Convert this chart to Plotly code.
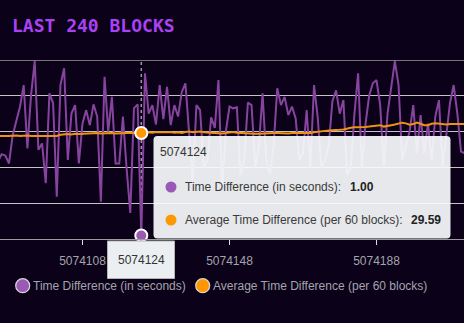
import plotly.graph_objects as go

# ---- data -------------------------------------------------------------
blocks = list(range(5074085, 5074213))

# seconds between consecutive blocks
time_diff = [
    21.6, 23.7, 23.3, 21.1, 29.0, 33.2, 37.0, 43.0, 25.3, 40.2,   # 085-094
    49.7, 24.9, 26.7, 15.6, 40.7, 37.9, 11.8, 43.0, 47.7, 22.1,   # 095-104
    35.1, 37.4, 21.1, 32.3, 36.0, 31.8, 37.6, 34.2, 10.4, 45.3,   # 105-114
    30.0, 39.7, 21.1, 21.1, 34.2, 19.7, 7.3, 36.5, 37.6, 1.0,     # 115-124
    46.3, 35.0, 37.4, 32.0, 43.0, 33.5, 42.5, 31.8, 37.4, 34.2,   # 125-134
    41.0, 43.5, 29.0, 16.0, 37.4, 36.0, 20.0, 22.0, 34.0, 31.0,   # 135-144
    44.4, 14.0, 30.0, 37.0, 36.5, 36.8, 18.0, 22.0, 38.1, 37.4,   # 145-154
    20.0, 26.0, 40.7, 22.0, 18.0, 26.0, 42.1, 37.4, 39.7, 34.6,   # 155-164
    37.0, 33.7, 22.0, 24.0, 36.0, 20.0, 43.0, 34.0, 20.0, 22.0,   # 165-174
    26.0, 38.5, 41.5, 35.0, 38.8, 18.0, 20.0, 35.0, 46.3, 20.0,   # 175-184
    32.0, 40.0, 43.5, 44.4, 37.4, 20.0, 35.0, 42.0, 49.7, 43.0,   # 185-194
    22.0, 26.0, 30.0, 37.4, 24.0, 34.6, 24.0, 32.2, 22.0, 34.2,   # 195-204
    38.8, 20.0, 30.0, 38.0, 43.0, 35.0, 24.4, 24.0,               # 205-212
]

# rolling mean over the previous 60 blocks
avg_diff = [
    28.8, 28.9, 28.8, 28.8, 28.9, 28.9, 28.8, 28.9, 28.9, 28.8,
    28.8, 28.8, 28.7, 28.8, 28.8, 28.7, 28.8, 29.1, 29.3, 29.3,
    29.2, 29.4, 29.3, 29.4, 29.5, 29.4, 29.6, 29.6, 29.5, 29.6,
    29.6, 29.6, 29.5, 29.6, 29.6, 29.6, 29.6, 29.5, 29.6, 29.59,
    29.7, 29.8, 29.7, 29.9, 29.8, 29.7, 29.8, 29.9, 29.7, 29.8,
    29.6, 29.9, 30.0, 29.8, 29.9, 30.0, 29.8, 29.7, 29.6, 29.7,
    29.6, 29.5, 29.6, 29.8, 29.9, 29.7, 29.6, 29.5, 29.4, 29.5,
    29.4, 29.4, 29.5, 29.6, 29.5, 29.6, 29.6, 29.5, 29.6, 29.5,
    29.6, 29.6, 29.5, 29.5, 29.4, 29.6, 29.8, 30.0, 30.1, 30.2,
    30.3, 30.3, 30.4, 30.5, 30.6, 30.9, 31.1, 31.2, 31.2, 31.1,
    31.3, 31.4, 31.6, 31.7, 31.8, 31.4, 31.5, 31.8, 32.0, 32.2,
    32.5, 32.3, 31.9, 32.1, 32.5, 32.2, 31.8, 31.8, 32.2, 32.3,
    32.2, 31.9, 32.0, 32.1, 32.1, 32.1, 32.0, 32.1,
]

tick_blocks = [5074068, 5074108, 5074148, 5074188, 5074228]
tick_labels = [str(b) for b in tick_blocks]
grid_values = [10, 20, 30, 40]
y_max = 50

hover_block = 5074124
series_names = ["Time Difference (in seconds)", "Average Time Difference (per 60 blocks)"]
title_text = "LAST 240 BLOCKS"

# ---- style ------------------------------------------------------------
W, H = 464, 323
TOP, BOTTOM = 60, 239          # plot area, in page pixels
BG = "#0b0119"
PURPLE = "#9b59b6"
ORANGE = "#ff9800"
LINE_PURPLE = "#87449e"
LINE_ORANGE = "#ee9311"
GRID = "#c4c4c4"
TEXT_GREY = "#a4a4ac"
FONT = "Liberation Sans, Arial, sans-serif"


def fx(px):
    return px / W


def fy(py):
    return (BOTTOM - py) / (BOTTOM - TOP)


def rounded_rect(x0, y0, x1, y1, r):
    rx, ry = r / W, r / (BOTTOM - TOP)
    a, b, c, d = fx(x0), fx(x1), fy(y0), fy(y1)   # c = top, d = bottom
    return (f"M{a+rx},{c} L{b-rx},{c} Q{b},{c} {b},{c-ry} "
            f"L{b},{d+ry} Q{b},{d} {b-rx},{d} L{a+rx},{d} "
            f"Q{a},{d} {a},{d+ry} L{a},{c-ry} Q{a},{c} {a+rx},{c} Z")


def circle(cx, cy, r, fill, border=None, bw=0):
    return dict(type="circle", xref="paper", yref="paper",
                x0=fx(cx - r), x1=fx(cx + r), y0=fy(cy + r), y1=fy(cy - r),
                fillcolor=fill, line=dict(color=border or fill, width=bw),
                layer="above")


def text(x, y, s, size=12, color="#333333", anchor="left", bold=False, family=FONT):
    return dict(xref="paper", yref="paper", x=fx(x), y=fy(y), text=f"<b>{s}</b>" if bold else s,
                showarrow=False, xanchor=anchor, yanchor="middle", borderpad=0,
                font=dict(size=size, color=color, family=family))


i = blocks.index(hover_block)

fig = go.Figure()
fig.add_trace(go.Scatter(x=blocks, y=time_diff, mode="lines", name=series_names[0],
                         line=dict(color=LINE_PURPLE, width=2), hoverinfo="skip"))
fig.add_trace(go.Scatter(x=blocks, y=avg_diff, mode="lines", name=series_names[1],
                         line=dict(color=LINE_ORANGE, width=2), hoverinfo="skip"))
fig.add_trace(go.Scatter(x=[hover_block, hover_block], y=[time_diff[i], avg_diff[i]],
                         mode="markers", cliponaxis=False, hoverinfo="skip",
                         marker=dict(size=12, color=[PURPLE, ORANGE],
                                     line=dict(color="white", width=2))))

shapes = [
    # top grid line
    dict(type="line", xref="paper", yref="y", x0=0, x1=1, y0=y_max, y1=y_max,
         line=dict(color="#9a9a9a", width=1.5), layer="below"),
    # axis pointer
    dict(type="line", xref="x", yref="paper", x0=hover_block, x1=hover_block, y0=0, y1=1,
         line=dict(color="#9a9a9a", width=1.5, dash="dot"), layer="below"),
    # tooltip panel
    dict(type="path", xref="paper", yref="paper", path=rounded_rect(153.5, 136, 450.5, 238.5, 4),
         fillcolor="rgba(248,250,252,0.93)", line=dict(width=0), layer="above"),
    circle(171, 187, 5.5, PURPLE),
    circle(171, 220, 5.5, ORANGE),
    # axis pointer label
    dict(type="rect", xref="paper", yref="paper", x0=fx(107.5), x1=fx(174.5), y0=fy(278.5), y1=fy(241),
         fillcolor="#eceff1", line=dict(color="#b4b4b4", width=1), layer="above"),
    # legend symbols
    circle(22.7, 285.7, 7, PURPLE, "#d8d8d8", 1.2),
    circle(202.7, 285.7, 7, ORANGE, "#d8d8d8", 1.2),
]

annotations = [
    text(11, 25, title_text, size=18, color="#aa42f4", anchor="left", bold=True,
         family="DejaVu Sans Mono, monospace"),
    text(159, 151.5, str(hover_block), color="#333333"),
    text(184, 187, series_names[0] + ":", color="#3a3a3a"),
    text(348.5, 187, f"{time_diff[i]:.2f}", color="#222222", bold=True),
    text(184, 220, series_names[1] + ":", color="#3a3a3a"),
    text(410, 220, f"{avg_diff[i]:.2f}", color="#222222", bold=True),
    text(141, 259.5, str(hover_block), color="#333333", anchor="center"),
    text(32, 285.7, series_names[0], color=TEXT_GREY),
    text(212, 285.7, series_names[1], color=TEXT_GREY),
]

fig.update_layout(
    width=W, height=H,
    margin=dict(l=0, r=0, t=TOP, b=H - BOTTOM, pad=0),
    paper_bgcolor=BG, plot_bgcolor=BG,
    showlegend=False,
    shapes=shapes, annotations=annotations,
    xaxis=dict(range=[5074085.55, 5074211.81], tickmode="array", tickvals=tick_blocks,
               ticktext=tick_labels, ticks="outside", ticklen=5, tickcolor="#dddddd",
               showgrid=False, zeroline=False, showline=True, linecolor="#9c9c9c", linewidth=1,
               tickfont=dict(size=12, color=TEXT_GREY, family=FONT), ticklabelstandoff=6),
    yaxis=dict(range=[0, y_max], tickmode="array", tickvals=grid_values, showticklabels=False,
               showgrid=True, gridcolor=GRID, gridwidth=1, zeroline=False, showline=False),
)

fig.write_html("out.html")
